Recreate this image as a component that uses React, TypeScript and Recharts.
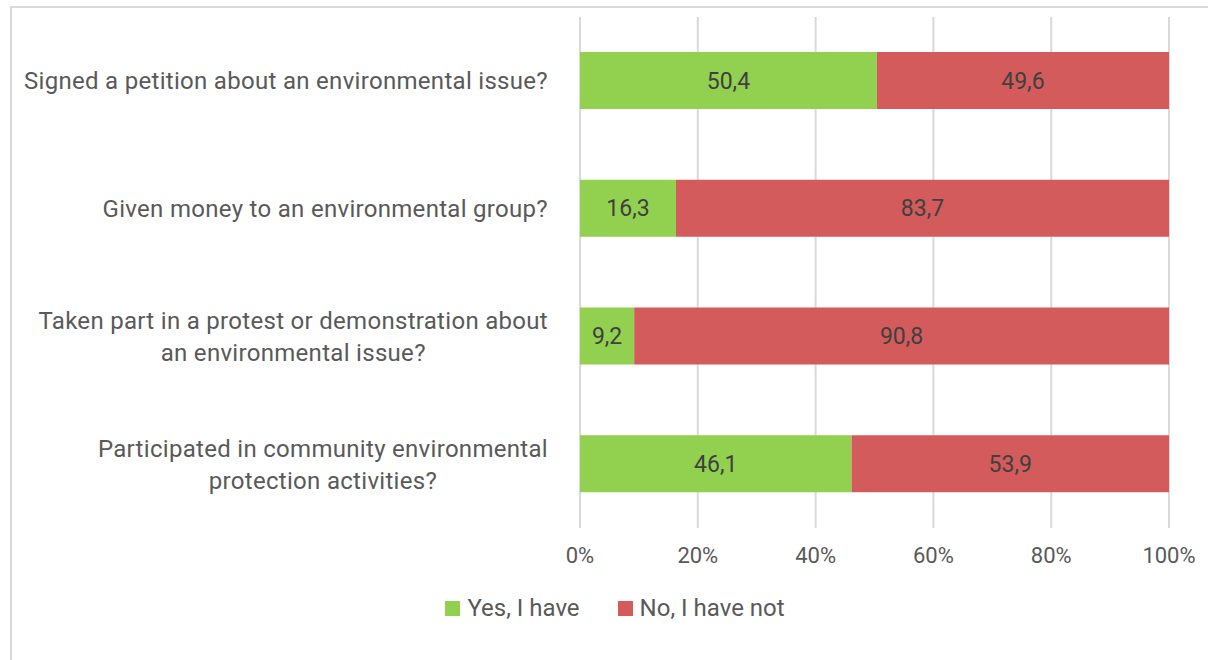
import { BarChart, Bar, XAxis, YAxis, CartesianGrid, Legend, LabelList } from 'recharts';

const categories = [
  'Signed a petition about an environmental issue?',
  'Given money to an environmental group?',
  'Taken part in a protest or demonstration about an environmental issue?',
  'Participated in community environmental protection activities?',
];
// how each category label wraps on the axis
const categoryLines = [
  ['Signed a petition about an environmental issue?'],
  ['Given money to an environmental group?'],
  ['Taken part in a protest or demonstration about', 'an environmental issue?'],
  ['Participated in community environmental', 'protection activities?'],
];
const yesValues = [50.4, 16.3, 9.2, 46.1];
const noValues = [49.6, 83.7, 90.8, 53.9];
const xTicks = [0, 20, 40, 60, 80, 100];
const seriesNames = ['Yes, I have', 'No, I have not'];
const seriesColors = ['#92D050', '#D35B5B'];

const FONT = 'Roboto, "Open Sans", sans-serif';
const CAT_SIZE = 24;
const CAT_SPACING = 0.3;
const TEXT = '#595959';

const data = categories.map((name, i) => ({ name, yes: yesValues[i], no: noValues[i] }));

let ctx: CanvasRenderingContext2D | null = null;
const measure = (s: string) => {
  if (!ctx) ctx = document.createElement('canvas').getContext('2d');
  if (!ctx) return s.length * 11;
  ctx.font = `${CAT_SIZE}px Roboto`;
  return ctx.measureText(s).width + s.length * CAT_SPACING;
};

const CategoryTick = (props: any) => {
  const { x, y, payload } = props;
  const lines = categoryLines[payload.index] || [payload.value];
  const lineH = 32;
  const right = x - 32;
  const textProps = { fill: TEXT, fontSize: CAT_SIZE, fontFamily: FONT, letterSpacing: CAT_SPACING };
  if (lines.length === 1) {
    return (
      <text x={right} y={y} dy="0.35em" textAnchor="end" {...textProps}>
        {lines[0]}
      </text>
    );
  }
  const w = Math.max(...lines.map(measure));
  const cx = right - w / 2;
  const top = y - ((lines.length - 1) * lineH) / 2;
  return (
    <text textAnchor="middle" {...textProps}>
      {lines.map((l: string, i: number) => (
        <tspan key={i} x={cx} y={top + i * lineH} dy="0.35em">{l}</tspan>
      ))}
    </text>
  );
};

const LegendContent = () => (
  <div style={{ height: 70, boxSizing: 'border-box', paddingTop: 10, display: 'flex', justifyContent: 'center', alignItems: 'center', paddingLeft: 6, fontFamily: FONT, fontSize: 24, color: TEXT }}>
    {seriesNames.map((n, i) => (
      <div key={n} style={{ display: 'flex', alignItems: 'center', marginRight: i === 0 ? 38 : 0 }}>
        <span style={{ width: 15, height: 15, background: seriesColors[i], marginRight: 7, display: 'inline-block' }} />
        <span>{n}</span>
      </div>
    ))}
  </div>
);

const fmt = (v: any) => String(v).replace('.', ',');

export default function App() {
  return (
    <div style={{ position: 'fixed', inset: 0, overflow: 'hidden', background: '#fff' }}>
      <div style={{ position: 'absolute', left: 10, top: 6, width: 1220, height: 680, border: '2px solid #D9D9D9', boxSizing: 'border-box' }}>
        <BarChart
          width={1200}
          height={650}
          data={data}
          layout="vertical"
          margin={{ top: 9, right: 43, left: 0, bottom: 20 }}
        >
          <CartesianGrid horizontal={false} stroke="#D9D9D9" strokeWidth={2} />
          <XAxis
            type="number"
            domain={[0, 100]}
            ticks={xTicks}
            tickFormatter={(v) => `${v}%`}
            axisLine={false}
            tickLine={false}
            tickSize={0}
            tickMargin={19}
            height={40}
            tick={{ fill: TEXT, fontSize: 22, fontFamily: FONT }}
          />
          <YAxis
            type="category"
            dataKey="name"
            width={568}
            axisLine={false}
            tickLine={false}
            tickSize={0}
            tickMargin={0}
            tick={<CategoryTick />}
          />
          <Legend verticalAlign="bottom" wrapperStyle={{ left: 0, width: 1200 }} content={<LegendContent />} />
          <Bar dataKey="yes" name={seriesNames[0]} stackId="a" fill={seriesColors[0]} barSize={57} isAnimationActive={false}>
            <LabelList dataKey="yes" position="center" formatter={fmt} fill="#404040" fontSize={23} fontFamily={FONT} />
          </Bar>
          <Bar dataKey="no" name={seriesNames[1]} stackId="a" fill={seriesColors[1]} barSize={57} isAnimationActive={false}>
            <LabelList dataKey="no" position="center" formatter={fmt} fill="#404040" fontSize={23} fontFamily={FONT} />
          </Bar>
        </BarChart>
      </div>
    </div>
  );
}
